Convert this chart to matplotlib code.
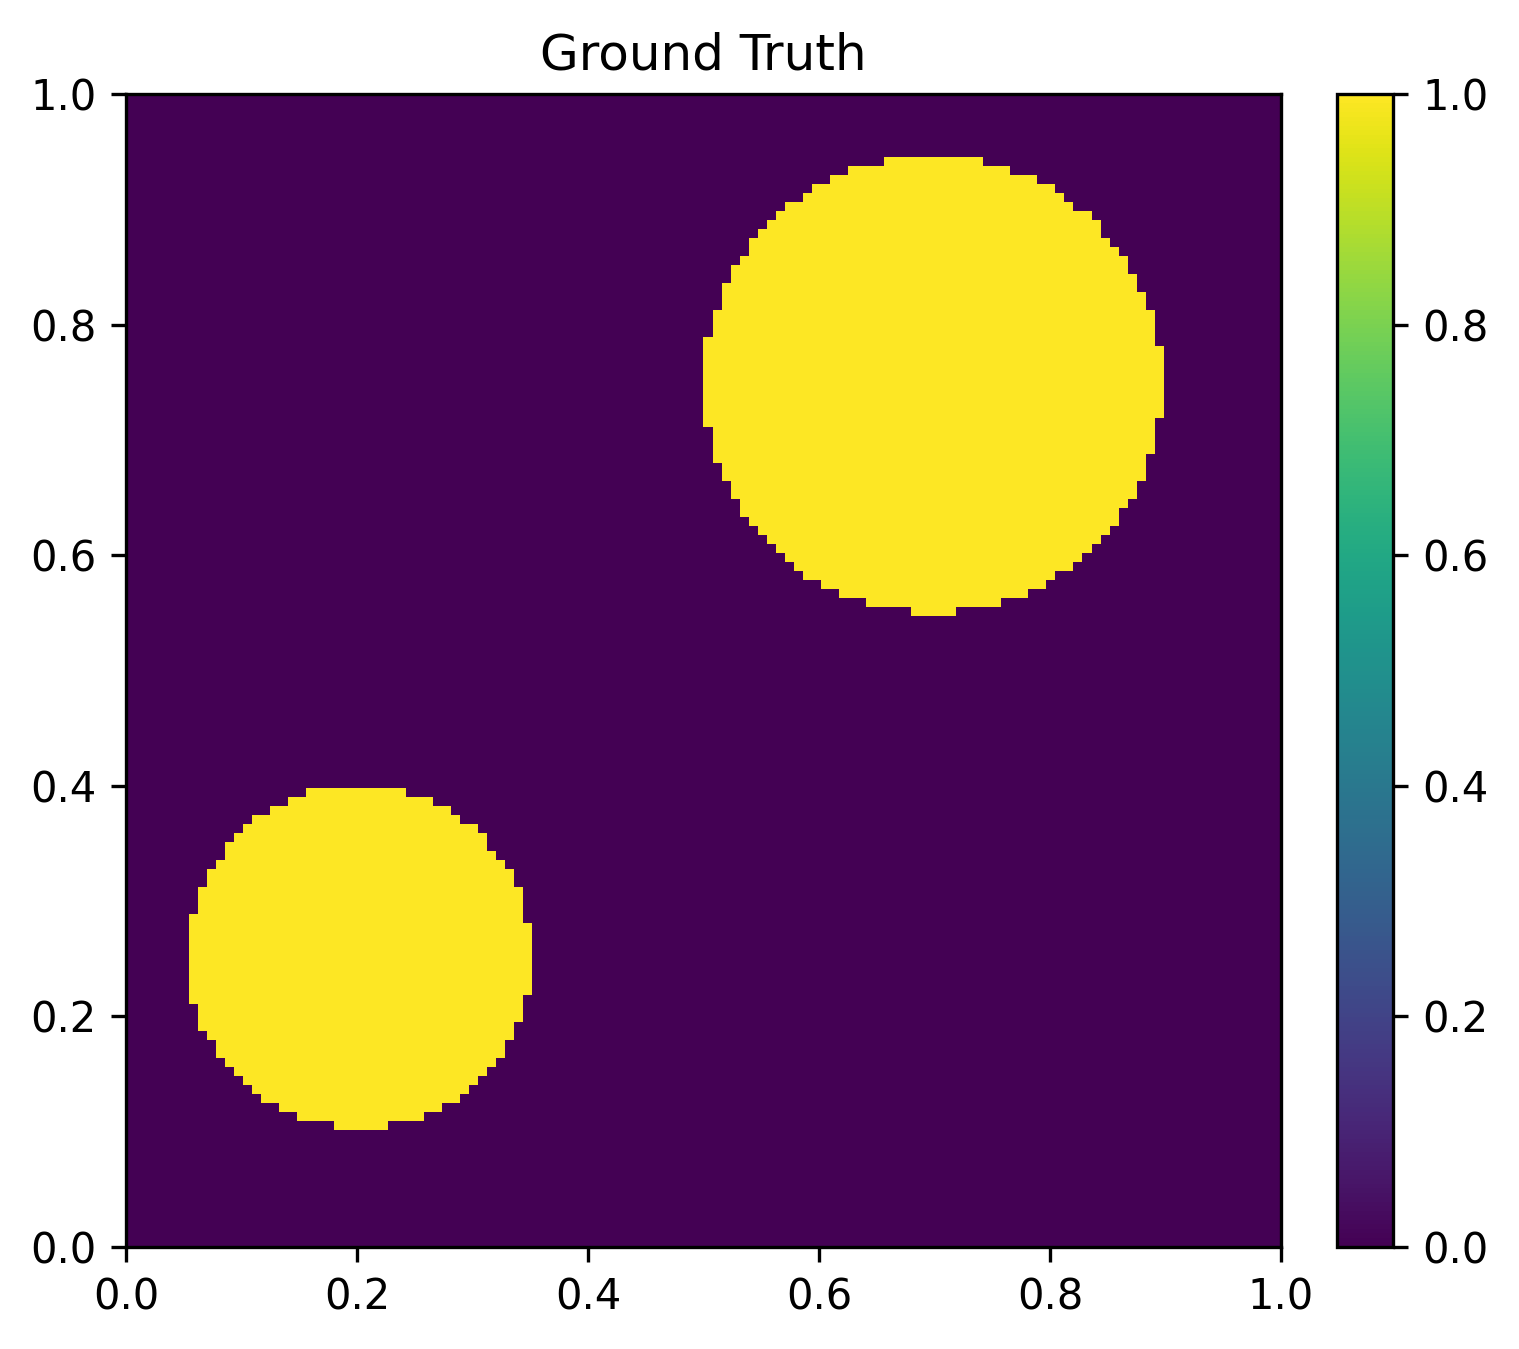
import numpy as np
import matplotlib
matplotlib.use("Agg")
import matplotlib.pyplot as plt

# grid and the two discs of the ground-truth field
n_grid = 128
centers_x = [0.7, 0.2]
centers_y = [0.75, 0.25]
radii = [0.2, 0.15]

xs = np.linspace(0, 1, n_grid)
ys = np.linspace(0, 1, n_grid)
X, Y = np.meshgrid(xs, ys)
field = np.zeros_like(X)
for cx, cy, r in zip(centers_x, centers_y, radii):
    field[(X - cx) ** 2 + (Y - cy) ** 2 <= r ** 2] = 1.0

fig = plt.figure(figsize=(1519 / 300, 1349 / 300), dpi=300)
ax = fig.add_axes([126 / 1519, 1 - 1247 / 1349, 1155 / 1519, 1153 / 1349])
cax = fig.add_axes([1337 / 1519, 1 - 1247 / 1349, 56 / 1519, 1153 / 1349])

im = ax.imshow(field, origin="lower", extent=[0, 1, 0, 1], cmap="viridis",
               vmin=0, vmax=1, aspect="auto", interpolation="nearest")
ax.set_title("Ground Truth")
ax.set_xlim(0, 1)
ax.set_ylim(0, 1)
fig.colorbar(im, cax=cax)

plt.savefig("out.png", dpi=300)
